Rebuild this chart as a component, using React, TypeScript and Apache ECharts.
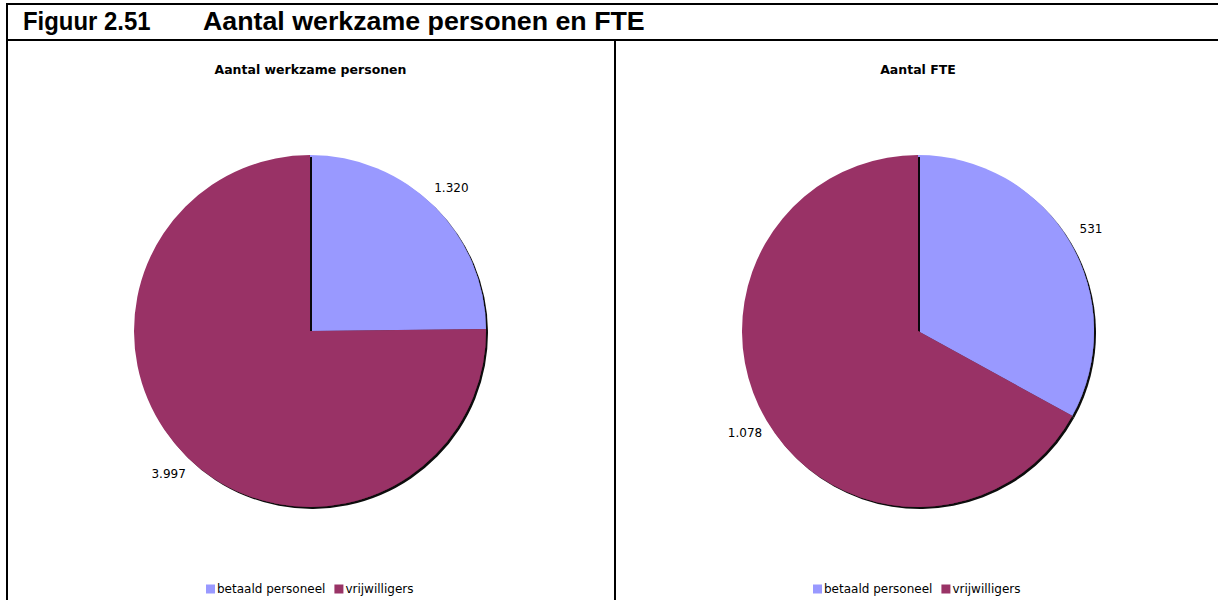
import React, { useEffect, useRef } from "react";
import * as echarts from "echarts";

const categories = ["betaald personeel", "vrijwilligers"];
const personenValues = [1320, 3997];
const fteValues = [531, 1078];
const personenTitle = "Aantal werkzame personen";
const fteTitle = "Aantal FTE";
const figTitleNum = "Figuur 2.51";
const figTitleText = "Aantal werkzame personen en FTE";
const colors = ["#9999FF", "#993366"];

const fmt = (v: number) => v.toLocaleString("nl-NL");

function pieSeries(values: number[], cx: number) {
  const data = categories.map((c, i) => ({ name: c, value: values[i] }));
  return [
    {
      type: "pie",
      center: [cx, 331],
      radius: [0, 176],
      startAngle: 90,
      clockwise: true,
      data,
      label: { show: false },
      labelLine: { show: false },
      itemStyle: {
        borderWidth: 0,
        shadowColor: "rgba(0,0,0,0.95)",
        shadowOffsetX: 2,
        shadowOffsetY: 2,
        shadowBlur: 1,
      },
      emphasis: { disabled: true },
    },
    {
      type: "pie",
      center: [cx, 331],
      radius: [188, 208],
      startAngle: 90,
      clockwise: true,
      silent: true,
      data,
      itemStyle: { color: "transparent" },
      label: {
        show: true,
        position: "inside",
        formatter: (p: any) => fmt(p.value),
        color: "#000",
        fontFamily: "DejaVu Sans",
        fontSize: 12,
      },
      labelLine: { show: false },
      emphasis: { disabled: true },
    },
  ];
}

export default function App() {
  const ref = useRef<HTMLDivElement>(null);
  useEffect(() => {
    if (!ref.current) return;
    const chart = echarts.init(ref.current, undefined, { renderer: "svg" });
    const legendCommon = {
      data: categories,
      icon: "rect",
      itemWidth: 9,
      itemHeight: 9,
      itemGap: 9,
      top: 578,
      textStyle: { fontFamily: "DejaVu Sans", fontSize: 12, color: "#000", padding: [0, 0, 0, -3] },
      selectedMode: false,
    };
    const titleStyle = { fontFamily: "DejaVu Sans", fontSize: 12.5, fontWeight: "bold", color: "#000" };
    chart.setOption({
      animation: false,
      color: colors,
      title: [
        { text: personenTitle, left: 305.5, top: 58, textAlign: "center", textStyle: titleStyle },
        { text: fteTitle, left: 913, top: 58, textAlign: "center", textStyle: titleStyle },
      ],
      legend: [
        { ...legendCommon, left: 201 },
        { ...legendCommon, left: 808 },
      ],
      series: [...pieSeries(personenValues, 310), ...pieSeries(fteValues, 918)],
      graphic: [
        { type: "line", shape: { x1: 6, y1: 4, x2: 1218, y2: 4 }, style: { stroke: "#000", lineWidth: 2 } },
        { type: "line", shape: { x1: 7, y1: 3, x2: 7, y2: 600 }, style: { stroke: "#000", lineWidth: 2 } },
        { type: "line", shape: { x1: 6, y1: 40, x2: 1218, y2: 40 }, style: { stroke: "#000", lineWidth: 2 } },
        { type: "line", shape: { x1: 615, y1: 40, x2: 615, y2: 600 }, style: { stroke: "#000", lineWidth: 2 } },
        {
          type: "text",
          x: 23,
          y: 34,
          scaleX: 0.92,
          style: {
            text: figTitleNum,
            fontFamily: "Liberation Sans",
            fontWeight: "bold",
            fontSize: 26,
            fill: "#000",
            textVerticalAlign: "bottom",
          },
        },
        {
          type: "text",
          x: 203,
          y: 34,
          scaleX: 1.03,
          style: {
            text: figTitleText,
            fontFamily: "Liberation Sans",
            fontWeight: "bold",
            fontSize: 26,
            fill: "#000",
            textVerticalAlign: "bottom",
          },
        },
      ],
    });
    return () => chart.dispose();
  }, []);
  return (
    <div
      ref={ref}
      style={{ position: "fixed", left: 0, top: 0, width: 1218, height: 600, background: "#fff" }}
    />
  );
}
